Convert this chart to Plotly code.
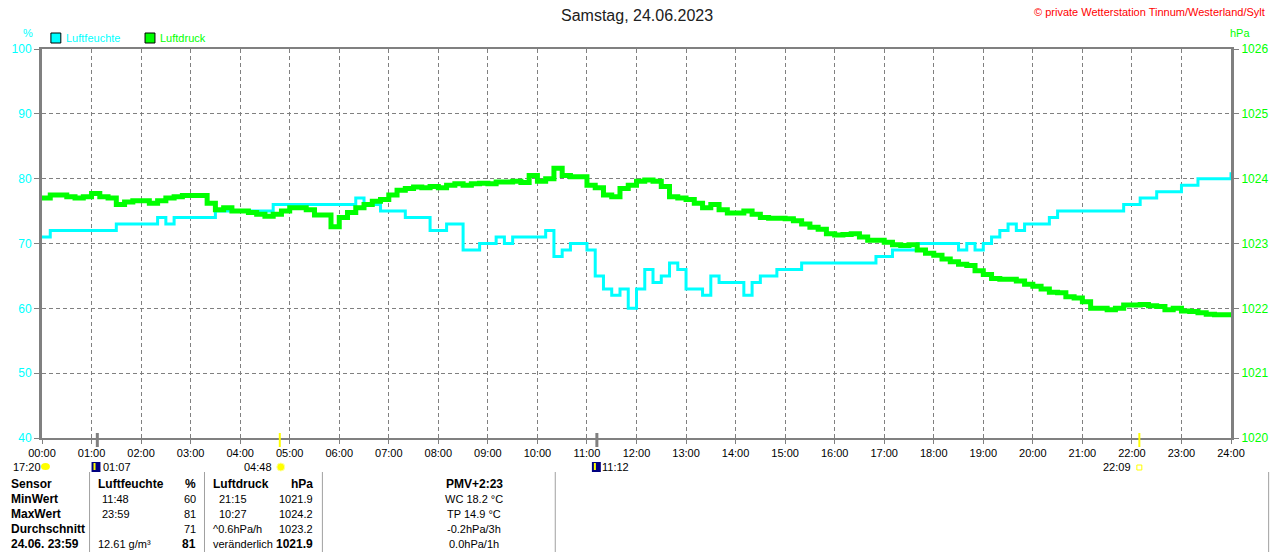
import pandas as pd
import plotly.graph_objects as go

# 10-minute samples, 24.06.2023
times = pd.date_range("2023-06-24 00:00", "2023-06-25 00:00", freq="10min")

# Luftfeuchte in %
luftfeuchte = [
    71, 72, 72, 72, 72, 72,
    72, 72, 72, 73, 73, 73,
    73, 73, 74, 73, 74, 74,
    74, 74, 74, 75, 75, 75,
    75, 75, 75, 75, 76, 76,
    76, 76, 76, 76, 76, 76,
    76, 76, 77, 76, 76, 75,
    75, 75, 74, 74, 74, 72,
    72, 73, 73, 69, 69, 70,
    70, 71, 70, 71, 71, 71,
    71, 72, 68, 69, 70, 70,
    69, 65, 63, 62, 63, 60,
    63, 66, 64, 65, 67, 66,
    63, 63, 62, 65, 64, 64,
    64, 62, 64, 65, 65, 66,
    66, 66, 67, 67, 67, 67,
    67, 67, 67, 67, 67, 68,
    68, 69, 69, 69, 70, 70,
    70, 70, 70, 69, 70, 69,
    70, 71, 72, 73, 72, 73,
    73, 73, 74, 75, 75, 75,
    75, 75, 75, 75, 75, 76,
    76, 77, 77, 78, 78, 78,
    79, 79, 80, 80, 80, 80,
    81,
]

# Luftdruck in hPa
luftdruck = [
    1023.70, 1023.75, 1023.75, 1023.72, 1023.70, 1023.72,
    1023.77, 1023.72, 1023.70, 1023.60, 1023.64, 1023.66,
    1023.66, 1023.62, 1023.66, 1023.70, 1023.72, 1023.74,
    1023.74, 1023.74, 1023.62, 1023.52, 1023.55, 1023.50,
    1023.50, 1023.48, 1023.45, 1023.42, 1023.45, 1023.50,
    1023.55, 1023.55, 1023.52, 1023.44, 1023.44, 1023.26,
    1023.40, 1023.48, 1023.55, 1023.60, 1023.65, 1023.68,
    1023.75, 1023.82, 1023.85, 1023.87, 1023.86, 1023.88,
    1023.86, 1023.90, 1023.92, 1023.90, 1023.92, 1023.93,
    1023.92, 1023.95, 1023.95, 1023.96, 1023.94, 1024.05,
    1023.96, 1024.00, 1024.16, 1024.05, 1024.03, 1024.03,
    1023.90, 1023.86, 1023.75, 1023.72, 1023.85, 1023.90,
    1023.96, 1023.98, 1023.96, 1023.88, 1023.72, 1023.70,
    1023.68, 1023.62, 1023.55, 1023.60, 1023.52, 1023.47,
    1023.47, 1023.50, 1023.45, 1023.40, 1023.39, 1023.39,
    1023.38, 1023.35, 1023.30, 1023.25, 1023.22, 1023.15,
    1023.13, 1023.14, 1023.15, 1023.10, 1023.05, 1023.05,
    1023.02, 1022.98, 1022.97, 1022.98, 1022.90, 1022.85,
    1022.82, 1022.76, 1022.72, 1022.68, 1022.66, 1022.58,
    1022.52, 1022.46, 1022.45, 1022.45, 1022.42, 1022.37,
    1022.34, 1022.30, 1022.25, 1022.24, 1022.18, 1022.16,
    1022.10, 1022.00, 1022.00, 1021.98, 1022.00, 1022.05,
    1022.05, 1022.06, 1022.04, 1022.03, 1021.98, 1022.00,
    1021.96, 1021.95, 1021.93, 1021.91, 1021.90, 1021.90,
    1021.90,
]

hour_ticks = pd.date_range("2023-06-24 00:00", "2023-06-25 00:00", freq="1h")
hour_labels = ["%02d:00" % h for h in range(25)]

# sun / moon events shown under the axis
sun_up, sun_down = "2023-06-24 04:48", "2023-06-24 22:09"
moon_down, moon_up = "2023-06-24 01:07", "2023-06-24 11:12"

CYAN = "#00FFFF"
GREEN = "#00FF00"
GREY = "#808080"
FONT = "Liberation Sans"


def px(x):
    return (x - 41) / 1200.0


def py(y):
    return (438 - y) / 389.0


fig = go.Figure()
fig.add_trace(go.Scatter(x=times, y=luftfeuchte, name="Luftfeuchte", mode="lines",
                         line=dict(color=CYAN, width=3, shape="hv")))
fig.add_trace(go.Scatter(x=times, y=luftdruck, name="Luftdruck", mode="lines", yaxis="y2",
                         line=dict(color=GREEN, width=5, shape="hv")))

ann = []
shapes = []


def text(x, y, s, color="black", size=11, anchor="left", bold=False):
    if bold:
        s = "<b>" + s + "</b>"
    ann.append(dict(xref="paper", yref="paper", x=px(x), y=py(y), text=s, showarrow=False,
                    xanchor=anchor, yanchor="middle",
                    font=dict(family=FONT, size=size, color=color)))


# header texts
text(641, 15, "Samstag, 24.06.2023", color="#202020", size=16, anchor="center")
text(1277, 12, "© private Wetterstation Tinnum/Westerland/Sylt", color="red", size=11, anchor="right")
text(27, 33, "%", color=CYAN, anchor="center")
text(1250, 33, "hPa", color=GREEN, anchor="center")

# legend boxes
for x0, col, label in [(50, CYAN, "Luftfeuchte"), (145, GREEN, "Luftdruck")]:
    shapes.append(dict(type="rect", xref="paper", yref="paper", x0=px(x0), x1=px(x0 + 10),
                       y0=py(43), y1=py(33), fillcolor=col, line=dict(color="black", width=1)))
    text(x0 + 13, 38, label, color=col)

# event ticks across the time axis
for t, col in [(sun_up, "#FFFF00"), (sun_down, "#FFFF00"), (moon_down, GREY), (moon_up, GREY)]:
    shapes.append(dict(type="line", xref="x", yref="paper", x0=t, x1=t, y0=py(447), y1=py(433),
                       line=dict(color=col, width=2 if col != GREY else 3)))

# sun / moon row
ry = 467
text(10, ry, "17:20")
shapes.append(dict(type="circle", xref="paper", yref="paper", x0=px(40), x1=px(49),
                   y0=py(ry + 3), y1=py(ry - 4), fillcolor="#FFFF00", line=dict(width=0)))
for x0 in (91, 596):
    shapes.append(dict(type="rect", xref="paper", yref="paper", x0=px(x0), x1=px(x0 + 9),
                       y0=py(ry + 5), y1=py(ry - 5), fillcolor="#000080", line=dict(width=0)))
    shapes.append(dict(type="line", xref="paper", yref="paper", x0=px(x0 + 3), x1=px(x0 + 3),
                       y0=py(ry + 3), y1=py(ry - 4), line=dict(color="#FFFF00", width=2)))
text(101, ry, "01:07")
text(604, ry, "11:12")
text(275, ry, "04:48", anchor="right")
shapes.append(dict(type="circle", xref="paper", yref="paper", x0=px(278), x1=px(286),
                   y0=py(ry + 4), y1=py(ry - 4), fillcolor="#FFFF00", line=dict(color="#FFFFA0", width=1)))
text(1142, ry, "22:09", anchor="right")
shapes.append(dict(type="rect", xref="paper", yref="paper", x0=px(1146), x1=px(1151),
                   y0=py(ry + 3), y1=py(ry - 2), line=dict(color="#FFFF00", width=1)))

# summary table
for xl in (89, 205, 324, 559, 1279):
    shapes.append(dict(type="line", xref="paper", yref="paper", x0=px(xl), x1=px(xl),
                       y0=py(552), y1=py(472), line=dict(color="#A0A0A0", width=1)))

rows = [484, 499, 514, 529, 544]
for y, s in zip(rows, ["Sensor", "MinWert", "MaxWert", "Durchschnitt", "24.06. 23:59"]):
    text(8, y, s, size=12, bold=True)
text(95, rows[0], "Luftfeuchte", size=12, bold=True)
text(198, rows[0], "%", size=12, anchor="right", bold=True)
text(212, rows[0], "Luftdruck", size=12, bold=True)
text(317, rows[0], "hPa", size=12, anchor="right", bold=True)
text(477, rows[0], "PMV+2:23", size=12, anchor="center", bold=True)

text(100, rows[1], "11:48")
text(198, rows[1], "60", anchor="right")
text(218, rows[1], "21:15")
text(317, rows[1], "1021.9", anchor="right")
text(477, rows[1], "WC 18.2 °C", anchor="center")

text(100, rows[2], "23:59")
text(198, rows[2], "81", anchor="right")
text(218, rows[2], "10:27")
text(317, rows[2], "1024.2", anchor="right")
text(477, rows[2], "TP 14.9 °C", anchor="center")

text(198, rows[3], "71", anchor="right")
text(212, rows[3], "^0.6hPa/h")
text(317, rows[3], "1023.2", anchor="right")
text(477, rows[3], "-0.2hPa/3h", anchor="center")

text(96, rows[4], "12.61 g/m³")
text(198, rows[4], "81", size=12, anchor="right", bold=True)
text(212, rows[4], "veränderlich")
text(317, rows[4], "1021.9", size=12, anchor="right", bold=True)
text(477, rows[4], "0.0hPa/1h", anchor="center")

fig.update_layout(
    width=1280, height=552,
    margin=dict(l=41, r=39, t=49, b=114),
    paper_bgcolor="white", plot_bgcolor="white",
    showlegend=False,
    font=dict(family=FONT, size=11, color="black"),
    xaxis=dict(
        type="date",
        range=[hour_ticks[0], hour_ticks[-1]],
        tickvals=hour_ticks, ticktext=hour_labels,
        showgrid=True, gridcolor=GREY, griddash="4px,3px", gridwidth=1,
        showline=True, linecolor=GREY, linewidth=2, mirror=True,
        ticks="outside", ticklen=4, tickcolor=GREY,
        tickfont=dict(family=FONT, size=11, color="black"),
        zeroline=False,
    ),
    yaxis=dict(
        range=[40, 100], dtick=10,
        showgrid=True, gridcolor=GREY, griddash="4px,3px", gridwidth=1,
        showline=True, linecolor=GREY, linewidth=3,
        ticks="outside", ticklen=5, tickcolor=GREY,
        tickfont=dict(family=FONT, size=12, color=CYAN),
        zeroline=False,
    ),
    yaxis2=dict(
        range=[1020, 1026], dtick=1, overlaying="y", side="right",
        showgrid=False,
        showline=True, linecolor=GREY, linewidth=3,
        ticks="outside", ticklen=5, tickcolor=GREY,
        tickfont=dict(family=FONT, size=12, color=GREEN),
        zeroline=False,
    ),
    annotations=ann,
    shapes=shapes,
)

# the default page has an 8px body margin; remove it so the figure fills the window
fig.write_html("out.html", config={"displayModeBar": False},
               post_script="document.body.style.margin='0';")
